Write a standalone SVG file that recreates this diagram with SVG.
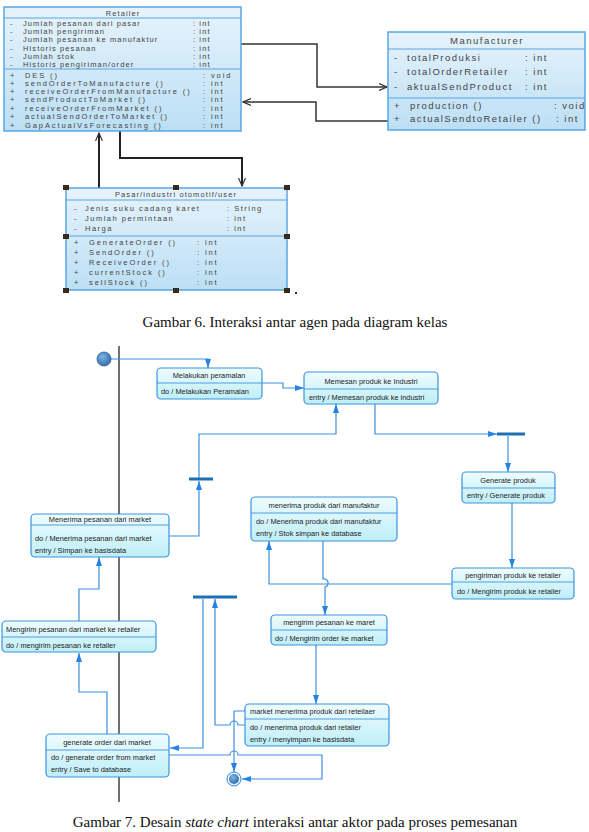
<svg xmlns="http://www.w3.org/2000/svg" width="589" height="832" viewBox="0 0 589 832">
<defs>
<linearGradient id="gCls" x1="0" y1="0" x2="0" y2="1"><stop offset="0" stop-color="#e6f3fc"/><stop offset="1" stop-color="#bcdff5"/></linearGradient>
<linearGradient id="gSt" x1="0" y1="0" x2="0" y2="1"><stop offset="0" stop-color="#eefcfe"/><stop offset="1" stop-color="#bfeef8"/></linearGradient>
<radialGradient id="gDot" cx="0.4" cy="0.35" r="0.7"><stop offset="0" stop-color="#7fb4e4"/><stop offset="1" stop-color="#2c6aa8"/></radialGradient>
<marker id="aOpen" markerWidth="9" markerHeight="8" refX="8" refY="4" orient="auto" markerUnits="userSpaceOnUse"><path d="M0,0.5 L8,4 L0,7.5" fill="none" stroke="#333" stroke-width="1.2"/></marker>
<marker id="aBlue" markerWidth="9" markerHeight="7" refX="9" refY="3.5" orient="auto" markerUnits="userSpaceOnUse"><path d="M0,0.5 L9,3.5 L0,6.5 z" fill="#2583e6"/></marker>
</defs>
<style>
.cls{fill:url(#gCls);stroke:#5aa6e2;stroke-width:1.5}
.sep{stroke:#5aa6e2;stroke-width:1}
.ct{font-family:"Liberation Sans",Arial,sans-serif;font-size:7.5px;letter-spacing:1.1px;fill:#444}
.cm{letter-spacing:1.9px}
.mt{font-family:"Liberation Sans",Arial,sans-serif;font-size:9.5px;letter-spacing:1.5px;fill:#444}
.st{fill:url(#gSt);stroke:#3d94dc;stroke-width:1.2}
.ssep{stroke:#3d94dc;stroke-width:0.9}
.sx{font-family:"Liberation Sans",Arial,sans-serif;font-size:7.4px;fill:#222}
.mid{text-anchor:middle}
.cap{font-family:"Liberation Serif","Times New Roman",serif;font-size:15px;fill:#111;text-anchor:middle}
.cc{fill:none;stroke:#333;stroke-width:1.5}
.cv{fill:none;stroke:#222;stroke-width:2}
.sc{fill:none;stroke:#3d8fe0;stroke-width:1.2}
.bar{fill:#1d6fb3}
.hnd{fill:#3a2a1a}
</style>

<g id="class-connectors">
<path class="cc" d="M241,44 H317 V87 H387" marker-end="url(#aOpen)"/>
<path class="cc" d="M388,121 H316 V102 H243" marker-end="url(#aOpen)"/>
<path class="cv" d="M99,188 V133" marker-end="url(#aOpen)"/>
<path class="cv" d="M120,131 V158 H242 V186" marker-end="url(#aOpen)"/>
</g>

<g id="retailer">
<rect class="cls" x="4" y="7" width="237" height="124"/>
<line class="sep" x1="4" y1="18" x2="241" y2="18"/>
<line class="sep" x1="4" y1="69" x2="241" y2="69"/>
<text class="ct mid" x="123" y="16">Retailer</text>
<g class="ct">
<text x="10" y="26">-</text><text x="23" y="26">Jumlah pesanan dari pasar</text><text x="193" y="26">: int</text>
<text x="10" y="34">-</text><text x="23" y="34">Jumlah pengiriman</text><text x="193" y="34">: int</text>
<text x="10" y="42">-</text><text x="23" y="42">Jumlah pesanan ke manufaktur</text><text x="193" y="42">: int</text>
<text x="10" y="51">-</text><text x="23" y="51">Historis pesanan</text><text x="193" y="51">: int</text>
<text x="10" y="59">-</text><text x="23" y="59">Jumlah stok</text><text x="193" y="59">: int</text>
<text x="10" y="67">-</text><text x="23" y="67">Historis pengiriman/order</text><text x="193" y="67">: int</text>
</g>
<g class="ct cm">
<text x="10" y="78">+</text><text x="25" y="78">DES ()</text><text x="203" y="78">: void</text>
<text x="10" y="86">+</text><text x="25" y="86">sendOrderToManufacture ()</text><text x="203" y="86">: int</text>
<text x="10" y="94">+</text><text x="25" y="94">receiveOrderFromManufacture ()</text><text x="203" y="94">: int</text>
<text x="10" y="102">+</text><text x="25" y="102">sendProductToMarket ()</text><text x="203" y="102">: int</text>
<text x="10" y="111">+</text><text x="25" y="111">receiveOrderFromMarket ()</text><text x="203" y="111">: int</text>
<text x="10" y="119">+</text><text x="25" y="119">actualSendOrderToMarket ()</text><text x="203" y="119">: int</text>
<text x="10" y="128">+</text><text x="25" y="128">GapActualVsForecasting ()</text><text x="203" y="128">: int</text>
</g>
</g>

<g id="manufacturer">
<rect class="cls" x="388" y="32" width="197" height="98"/>
<line class="sep" x1="388" y1="49" x2="585" y2="49"/>
<line class="sep" x1="388" y1="98" x2="585" y2="98"/>
<text class="mt mid" x="487" y="44">Manufacturer</text>
<g class="mt">
<text x="394" y="61">-</text><text x="407" y="61">totalProduksi</text><text x="525" y="61">: int</text>
<text x="394" y="75">-</text><text x="407" y="75">totalOrderRetailer</text><text x="525" y="75">: int</text>
<text x="394" y="90">-</text><text x="407" y="90">aktualSendProduct</text><text x="525" y="90">: int</text>
<text x="394" y="109">+</text><text x="410" y="109">production ()</text><text x="554" y="109">: void</text>
<text x="394" y="122">+</text><text x="410" y="122">actualSendtoRetailer ()</text><text x="556" y="122">: int</text>
</g>
</g>

<g id="pasar">
<rect class="cls" x="66" y="188" width="221" height="102"/>
<line class="sep" x1="66" y1="200" x2="287" y2="200"/>
<line class="sep" x1="66" y1="236" x2="287" y2="236"/>
<text class="ct mid" x="176" y="197">Pasar/industri otomotif/user</text>
<g class="ct" style="letter-spacing:1.5px">
<text x="74" y="211">-</text><text x="85" y="211">Jenis suku cadang karet</text><text x="227" y="211">: String</text>
<text x="74" y="221">-</text><text x="85" y="221">Jumlah permintaan</text><text x="227" y="221">: int</text>
<text x="74" y="231">-</text><text x="85" y="231">Harga</text><text x="227" y="231">: int</text>
</g>
<g class="ct cm">
<text x="74" y="245">+</text><text x="89" y="245">GenerateOrder ()</text><text x="197" y="245">: int</text>
<text x="74" y="255">+</text><text x="89" y="255">SendOrder ()</text><text x="197" y="255">: int</text>
<text x="74" y="265">+</text><text x="89" y="265">ReceiveOrder ()</text><text x="197" y="265">: int</text>
<text x="74" y="275">+</text><text x="89" y="275">currentStock ()</text><text x="197" y="275">: int</text>
<text x="74" y="285">+</text><text x="89" y="285">sellStock ()</text><text x="197" y="285">: int</text>
</g>
<g class="hnd">
<rect x="63" y="185" width="6" height="5"/><rect x="173" y="185" width="6" height="5"/><rect x="284" y="185" width="6" height="5"/>
<rect x="63" y="234" width="6" height="5"/><rect x="284" y="234" width="6" height="5"/>
<rect x="63" y="288" width="6" height="5"/><rect x="173" y="288" width="6" height="5"/><rect x="284" y="288" width="6" height="5"/>
<rect x="295" y="292" width="2" height="2"/>
</g>
</g>

<text class="cap" x="295" y="327">Gambar 6.  Interaksi antar agen pada diagram kelas</text>

<line x1="119" y1="346" x2="119" y2="802" stroke="#111" stroke-width="1.2"/>

<g id="sc-connectors">
<path class="sc" d="M111,359 H208 V368" marker-end="url(#aBlue)"/>
<path class="sc" d="M262,383 H283 V388 H304" marker-end="url(#aBlue)"/>
<path class="sc" d="M375,404 V434 H497" marker-end="url(#aBlue)"/>
<path class="sc" d="M508,436 V472" marker-end="url(#aBlue)"/>
<path class="sc" d="M512,503 V568" marker-end="url(#aBlue)"/>
<path class="sc" d="M452,584 H269 V541" marker-end="url(#aBlue)"/>
<path class="sc" d="M323,541 V579 A4,4 0 0 1 325,587 V615" marker-end="url(#aBlue)"/>
<path class="sc" d="M316,645 V704" marker-end="url(#aBlue)"/>
<path class="sc" d="M245,725 H238 A4,4 0 0 0 230,725 H215 V599" marker-end="url(#aBlue)"/>
<path class="sc" d="M203,599 V748 H170" marker-end="url(#aBlue)"/>
<path class="sc" d="M245,711 H234 V772" marker-end="url(#aBlue)"/>
<path class="sc" d="M169,755 H230 A4,4 0 0 1 238,755 H322 V779 H242" marker-end="url(#aBlue)"/>
<path class="sc" d="M107,734 V692 H79 V653" marker-end="url(#aBlue)"/>
<path class="sc" d="M79,621 V589 H99 V557" marker-end="url(#aBlue)"/>
<path class="sc" d="M169,536 H199 V481" marker-end="url(#aBlue)"/>
<path class="sc" d="M199,478 V434 H336 V404" marker-end="url(#aBlue)"/>
</g>

<g id="initial"><circle cx="104" cy="359" r="7" fill="url(#gDot)" stroke="#2a5d95" stroke-width="0.8"/></g>
<g id="final"><circle cx="234" cy="779" r="7" fill="#eaf6fd" stroke="#2f86e0" stroke-width="1"/><circle cx="234" cy="779" r="5" fill="url(#gDot)"/></g>

<g id="bar1"><rect class="bar" x="189" y="477.5" width="24" height="3"/></g>
<g id="bar2"><rect class="bar" x="497" y="432.5" width="28" height="3"/></g>
<g id="bar3"><rect class="bar" x="193" y="595.5" width="44" height="3"/></g>

<g id="melakukan">
<rect class="st" x="157" y="368" width="105" height="31" rx="4"/>
<line class="ssep" x1="157" y1="383" x2="262" y2="383"/>
<text class="sx mid" x="209" y="378">Melakukan peramalan</text>
<text class="sx" x="161" y="394">do / Melakukan Peramalan</text>
</g>

<g id="memesan">
<rect class="st" x="304" y="372" width="134" height="32" rx="4"/>
<line class="ssep" x1="304" y1="389" x2="438" y2="389"/>
<text class="sx mid" x="371" y="384">Memesan produk ke Industri</text>
<text class="sx" x="309" y="400">entry / Memesan produk ke industri</text>
</g>

<g id="generate-produk">
<rect class="st" x="462" y="472" width="93" height="31" rx="4"/>
<line class="ssep" x1="462" y1="488" x2="555" y2="488"/>
<text class="sx mid" x="508" y="483">Generate produk</text>
<text class="sx" x="467" y="498">entry / Generate produk</text>
</g>

<g id="pengiriman">
<rect class="st" x="452" y="568" width="122" height="31" rx="4"/>
<line class="ssep" x1="452" y1="582" x2="574" y2="582"/>
<text class="sx mid" x="513" y="578">pengiriman produk ke retailer</text>
<text class="sx" x="457" y="594">do / Mengirim produk ke retailer</text>
</g>

<g id="menerima-produk">
<rect class="st" x="251" y="497" width="146" height="44" rx="4"/>
<line class="ssep" x1="251" y1="513" x2="397" y2="513"/>
<text class="sx mid" x="324" y="508">menerima produk dari  manufaktur</text>
<text class="sx" x="256" y="524">do / Menerima produk dari manufaktur</text>
<text class="sx" x="256" y="536">entry / Stok simpan ke database</text>
</g>

<g id="mengirim-maret">
<rect class="st" x="271" y="615" width="116" height="30" rx="4"/>
<line class="ssep" x1="271" y1="630" x2="387" y2="630"/>
<text class="sx mid" x="329" y="625">mengirim pesanan ke maret</text>
<text class="sx" x="275" y="641">do / Mengirim order ke market</text>
</g>

<g id="market-menerima">
<rect class="st" x="245" y="704" width="144" height="42" rx="4"/>
<line class="ssep" x1="245" y1="719" x2="389" y2="719"/>
<text class="sx" x="250" y="714">market menerima produk dari reteilaer</text>
<text class="sx" x="250" y="730">do / menerima produk dari retailer</text>
<text class="sx" x="250" y="742">entry / menyimpan ke basisdata</text>
</g>

<g id="menerima-pesanan">
<rect class="st" x="31" y="514" width="138" height="43" rx="4"/>
<line class="ssep" x1="31" y1="525" x2="169" y2="525"/>
<text class="sx mid" x="100" y="522">Menerima pesanan dari market</text>
<text class="sx" x="35" y="541">do / Menerima pesanan dari market</text>
<text class="sx" x="35" y="553">entry / Simpan ke basisdata</text>
</g>

<g id="mengirim-pesanan">
<rect class="st" x="2" y="621" width="154" height="31" rx="4"/>
<line class="ssep" x1="2" y1="637" x2="156" y2="637"/>
<text class="sx" x="6" y="632">Mengirim pesanan dari market ke retailer</text>
<text class="sx" x="6" y="648">do / mengirim pesanan ke retailer</text>
</g>

<g id="generate-order">
<rect class="st" x="46" y="734" width="123" height="43" rx="4"/>
<line class="ssep" x1="46" y1="750" x2="169" y2="750"/>
<text class="sx mid" x="107" y="745">generate order dari market</text>
<text class="sx" x="51" y="760">do / generate order from market</text>
<text class="sx" x="51" y="772">entry / Save to database</text>
</g>

<text class="cap" x="295" y="827">Gambar 7.  Desain <tspan font-style="italic">state chart</tspan> interaksi antar aktor pada proses pemesanan</text>
</svg>
